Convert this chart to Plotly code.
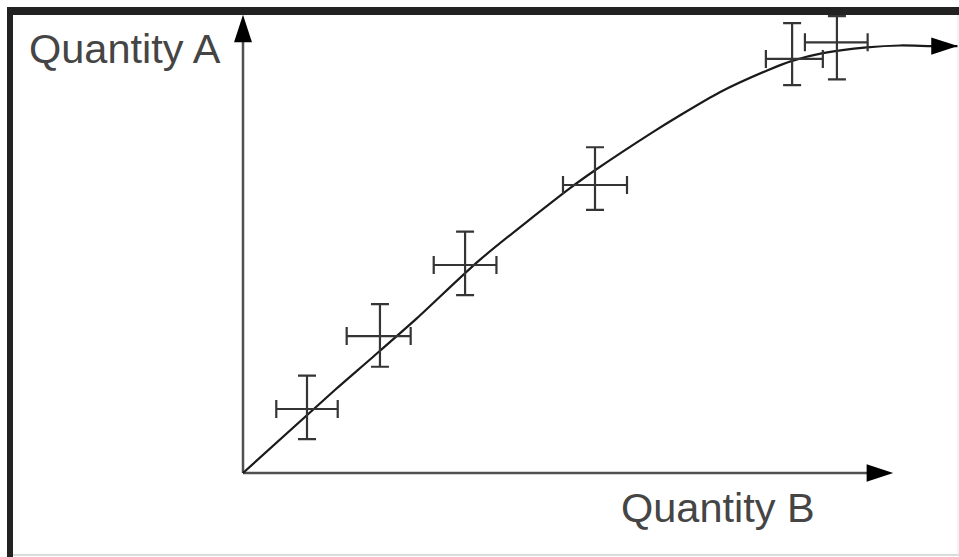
import plotly.graph_objects as go

# ---- data (units of the two quantities) ----
pt_x = [1.00, 2.14, 3.47, 5.50, 8.58, 9.28]
pt_y = [1.00, 2.14, 3.25, 4.50, 6.47, 6.73]
err_x_plus = [0.48, 0.48, 0.49, 0.50, 0.48, 0.48]
err_x_minus = [0.48, 0.52, 0.49, 0.50, 0.41, 0.50]
err_y_plus = [0.52, 0.50, 0.52, 0.59, 0.56, 0.41]
err_y_minus = [0.47, 0.48, 0.47, 0.39, 0.41, 0.58]

curve_x = [0.00, 1.44, 1.98, 2.72, 3.70, 5.11, 5.50, 6.41, 6.83, 7.45, 8.19, 8.58, 9.06, 9.75, 10.27, 10.77, 11.17]
curve_y = [0.00, 1.30, 1.77, 2.42, 3.33, 4.45, 4.73, 5.33, 5.59, 5.95, 6.29, 6.44, 6.56, 6.65, 6.68, 6.67, 6.67]

x_axis_end = 10.16
y_axis_end = 7.16
label_x = "Quantity B"
label_y = "Quantity A"

W, H = 959, 557
S = 64.0           # pixels per unit
OX, OY = 243, 473  # origin position inside the figure

fig = go.Figure()

axis_col = "#505050"
arrow_col = "#000000"
# x axis with arrow
fig.add_trace(go.Scatter(
    x=[0, x_axis_end], y=[0, 0], mode="lines+markers",
    line=dict(color=axis_col, width=2.5),
    marker=dict(symbol="arrow", size=[0, 28], angleref="previous",
                color=arrow_col, opacity=1, line=dict(width=0)),
    cliponaxis=False, hoverinfo="skip", showlegend=False))
# y axis with arrow
fig.add_trace(go.Scatter(
    x=[0, 0], y=[0, y_axis_end], mode="lines+markers",
    line=dict(color=axis_col, width=2.5),
    marker=dict(symbol="arrow", size=[0, 29], angleref="previous",
                color=arrow_col, opacity=1, line=dict(width=0)),
    cliponaxis=False, hoverinfo="skip", showlegend=False))

# fitted curve
fig.add_trace(go.Scatter(
    x=curve_x, y=curve_y, mode="lines",
    line=dict(color="#1a1a1a", width=2.2, shape="spline", smoothing=0.7),
    hoverinfo="skip", showlegend=False))
# arrowhead at curve end
fig.add_trace(go.Scatter(
    x=curve_x[-2:], y=curve_y[-2:], mode="markers",
    marker=dict(symbol="arrow", size=[0, 28], angleref="previous",
                color=arrow_col, opacity=1, line=dict(width=0)),
    cliponaxis=False, hoverinfo="skip", showlegend=False))

# data points with error bars
err_col = "#353535"
fig.add_trace(go.Scatter(
    x=pt_x, y=pt_y, mode="markers",
    marker=dict(size=1, color="rgba(0,0,0,0)"),
    error_x=dict(type="data", symmetric=False, array=err_x_plus, arrayminus=err_x_minus,
                 color=err_col, thickness=2.2, width=9),
    error_y=dict(type="data", symmetric=False, array=err_y_plus, arrayminus=err_y_minus,
                 color=err_col, thickness=2.2, width=9),
    hoverinfo="skip", showlegend=False))

x0 = -OX / S
y1 = OY / S

def px(v):
    return min(max(v / W, 0), 1)

def py(v):
    return min(max(1 - v / H, 0), 1)

shapes = [
    dict(type="rect", xref="paper", yref="paper", x0=px(7), x1=px(959), y0=py(15), y1=py(7),
         fillcolor="#222", line=dict(width=0), layer="above"),
    dict(type="rect", xref="paper", yref="paper", x0=px(7), x1=px(13), y0=0, y1=py(7),
         fillcolor="#222", line=dict(width=0), layer="above"),
    dict(type="line", xref="paper", yref="paper", x0=px(13), x1=1, y0=py(555), y1=py(555),
         line=dict(color="#cfcfcf", width=1.5)),
    dict(type="line", xref="paper", yref="paper", x0=px(958), x1=px(958), y0=py(15), y1=py(555),
         line=dict(color="#e6e6e6", width=1)),
]

font = dict(family="Liberation Sans, Arial, sans-serif", size=41.5, color="#454545")
annotations = [
    dict(text=label_y, xref="paper", yref="paper", x=px(27), y=py(48),
         xanchor="left", yanchor="middle", showarrow=False, font=font),
    dict(text=label_x, xref="paper", yref="paper", x=px(619), y=py(507),
         xanchor="left", yanchor="middle", showarrow=False, font=font),
]

fig.update_layout(
    width=W, height=H,
    margin=dict(l=0, r=0, t=0, b=0),
    paper_bgcolor="white", plot_bgcolor="white",
    xaxis=dict(range=[x0, x0 + W / S], visible=False, fixedrange=True),
    yaxis=dict(range=[y1 - H / S, y1], visible=False, fixedrange=True),
    shapes=shapes, annotations=annotations,
)

fig.write_html(
    "out.html",
    config={"displayModeBar": False},
    post_script=("document.body.style.margin='0px';"
                 "document.body.style.overflow='hidden';"
                 "document.documentElement.style.overflow='hidden';"),
)
